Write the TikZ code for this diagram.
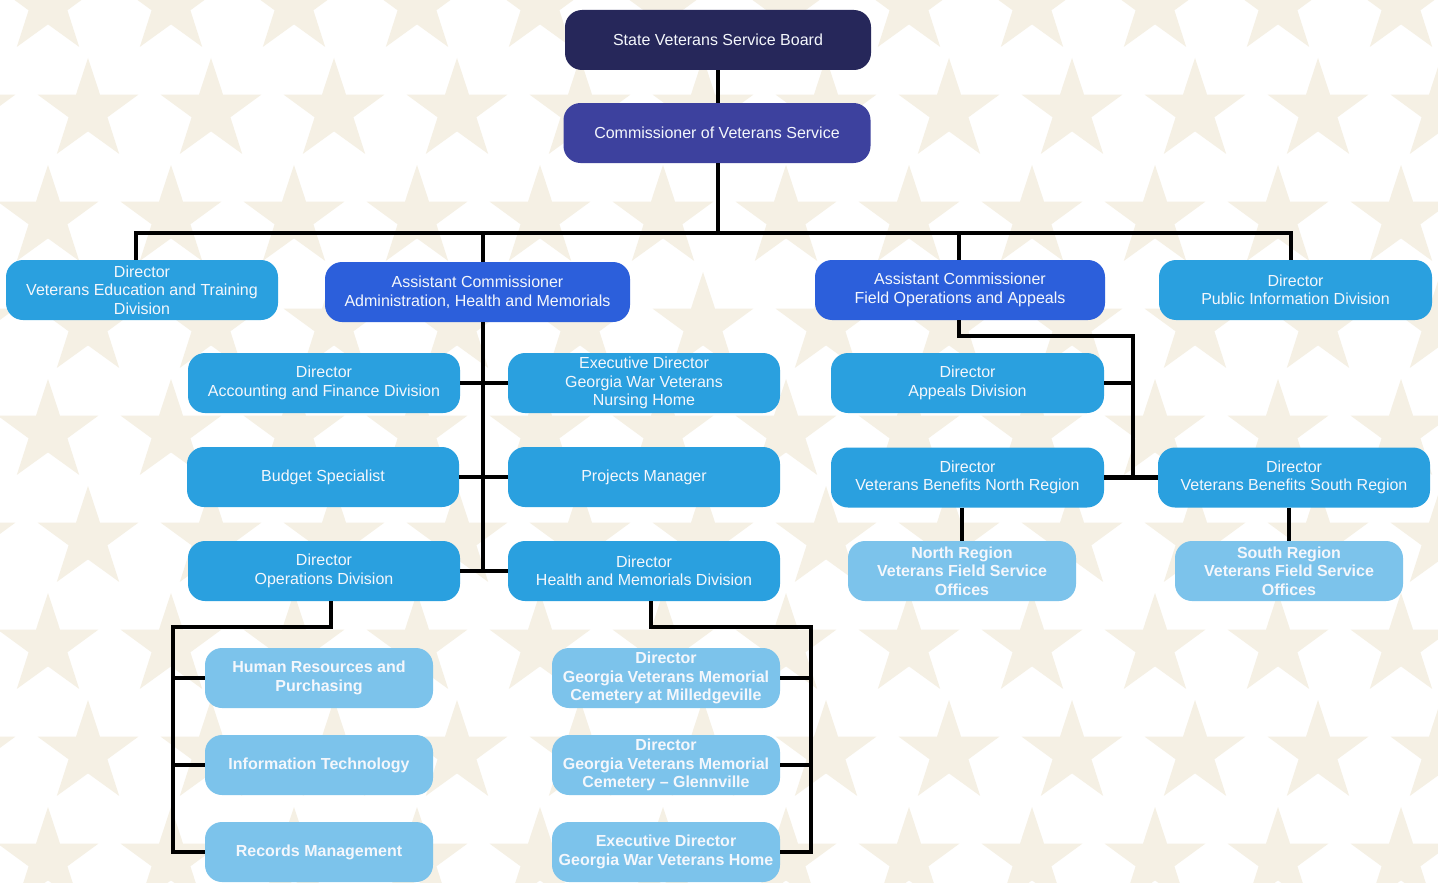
\documentclass[tikz,border=0pt]{standalone}
\usepackage{fontspec}
\setmainfont{Liberation Sans}
\usetikzlibrary{shapes.geometric}
\definecolor{navyc}{HTML}{26275A}
\definecolor{indigoc}{HTML}{3D419E}
\definecolor{royalc}{HTML}{2C5FDB}
\definecolor{midc}{HTML}{2AA0DF}
\definecolor{lightc}{HTML}{7CC3EB}
\definecolor{starc}{HTML}{F5F0E4}
\definecolor{txtc}{HTML}{F4F7FC}
\tikzset{
  box/.style={rounded corners=17pt, text=txtc, align=center, inner sep=0pt,
    minimum height=60pt, font=\fontsize{16}{18.5}\selectfont},
  navybox/.style={box, fill=navyc},
  indigobox/.style={box, fill=indigoc},
  royalbox/.style={box, fill=royalc},
  midbox/.style={box, fill=midc},
  lightbox/.style={box, fill=lightc, font=\fontsize{16}{18.5}\selectfont\bfseries},
  conn/.style={draw=black, line width=4.5pt},
  bgstar/.style={star, star points=5, star point ratio=2.6, minimum size=106pt,
    inner sep=0pt, fill=starc, draw=none}
}
\begin{document}
\begin{tikzpicture}[x=1pt,y=-1pt]
\useasboundingbox (0,0) rectangle (1438,883);
\fill[white] (0,0) rectangle (1438,883);
% background stars
\begin{scope}
\clip (0,0) rectangle (1438,883);
\foreach \k in {0,...,8}{
  \pgfmathsetmacro{\yy}{4+107*\k}
  \pgfmathsetmacro{\xo}{mod(\k,2)==0 ? 48 : 88}
  \foreach \j in {-1,...,11}{
    \pgfmathsetmacro{\xx}{\xo+123*\j}
    \node[bgstar] at (\xx,\yy) {};
  }
}
\end{scope}

% nodes
\node[navybox, minimum width=306pt] (svsb) at (718,40) {State Veterans Service Board};
\node[indigobox, minimum width=307pt] (comm) at (717,133) {Commissioner of Veterans Service};

\node[midbox, minimum width=272pt] (vetd) at (142,290) {Director\\Veterans Education and Training\\Division};
\node[royalbox, minimum width=305pt] (ahm) at (477.5,292) {Assistant Commissioner\\Administration, Health and Memorials};
\node[royalbox, minimum width=290pt] (foa) at (960,290) {Assistant Commissioner\\Field Operations and Appeals};
\node[midbox, minimum width=273pt] (pub) at (1295.5,290) {Director\\Public Information Division};

\node[midbox, minimum width=272pt] (acct) at (324,383) {Director\\Accounting and Finance Division};
\node[midbox, minimum width=272pt] (gwvnh) at (644,383) {Executive Director\\Georgia War Veterans\\Nursing Home};
\node[midbox, minimum width=272pt] (budget) at (323,477) {Budget Specialist};
\node[midbox, minimum width=272pt] (proj) at (644,477) {Projects Manager};
\node[midbox, minimum width=272pt] (ops) at (324,571) {Director\\Operations Division};
\node[midbox, minimum width=272pt] (health) at (644,571) {Director\\Health and Memorials Division};

\node[midbox, minimum width=273pt] (appeals) at (967.5,383) {Director\\Appeals Division};
\node[midbox, minimum width=273pt] (vbn) at (967.5,477.5) {Director\\Veterans Benefits North Region};
\node[midbox, minimum width=272pt] (vbs) at (1294,477.5) {Director\\Veterans Benefits South Region};
\node[lightbox, minimum width=228pt] (nro) at (962,571) {North Region\\Veterans Field Service\\Offices};
\node[lightbox, minimum width=228pt] (sro) at (1289,571) {South Region\\Veterans Field Service\\Offices};

\node[lightbox, minimum width=228pt] (hr) at (319,678) {Human Resources and\\Purchasing};
\node[lightbox, minimum width=228pt] (it) at (319,765) {Information Technology};
\node[lightbox, minimum width=228pt] (rec) at (319,852) {Records Management};
\node[lightbox, minimum width=228pt] (mil) at (666,678) {Director\\Georgia Veterans Memorial\\Cemetery at Milledgeville};
\node[lightbox, minimum width=228pt] (glen) at (666,765) {Director\\Georgia Veterans Memorial\\Cemetery -- Glennville};
\node[lightbox, minimum width=228pt] (gwvh) at (666,852) {Executive Director\\Georgia War Veterans Home};

% junction coordinates
\coordinate (top) at (718,233);
\coordinate (busL) at (136,233);
\coordinate (busR) at (1291,233);
\coordinate (ahmx) at (483,233);
\coordinate (foax) at (959,233);
\coordinate (trunk) at (483,571);
\coordinate (fo1) at (959,336);
\coordinate (fo2) at (1133,336);
\coordinate (o1) at (331,627);
\coordinate (o2) at (173,627);
\coordinate (h1) at (651,627);
\coordinate (h2) at (811,627);

% connectors
\draw[conn] (svsb.south -| top) -- (comm.north -| top);
\draw[conn] (comm.south -| top) -- (top);
\draw[conn] (busL |- vetd.north) -- (busL) -- (busR) -- (busR |- pub.north);
\draw[conn] (ahmx) -- (ahmx |- ahm.north);
\draw[conn] (foax) -- (foax |- foa.north);

\draw[conn] (ahmx |- ahm.south) -- (trunk);
\draw[conn] (acct.east) -- (gwvnh.west);
\draw[conn] (budget.east) -- (proj.west);
\draw[conn] (ops.east) -- (health.west);

\draw[conn] (fo1 |- foa.south) -- (fo1) -- (fo2) -- (fo2 |- vbn.east);
\draw[conn] (appeals.east) -- (fo2 |- appeals.east);
\draw[conn] (vbn.east) -- (vbs.west);
\draw[conn] (nro.north |- vbn.south) -- (nro.north);
\draw[conn] (sro.north |- vbs.south) -- (sro.north);

\draw[conn] (o1 |- ops.south) -- (o1) -- (o2) -- (o2 |- rec.west) -- (rec.west);
\draw[conn] (o2 |- hr.west) -- (hr.west);
\draw[conn] (o2 |- it.west) -- (it.west);

\draw[conn] (h1 |- health.south) -- (h1) -- (h2) -- (h2 |- gwvh.east) -- (gwvh.east);
\draw[conn] (h2 |- mil.east) -- (mil.east);
\draw[conn] (h2 |- glen.east) -- (glen.east);
\end{tikzpicture}
\end{document}
